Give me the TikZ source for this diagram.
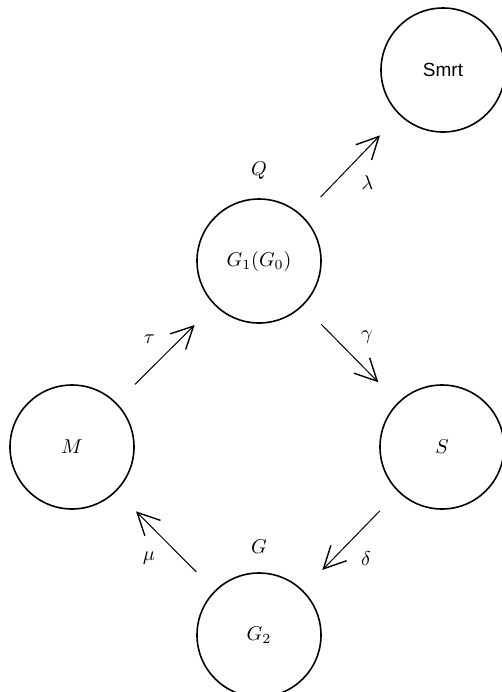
\documentclass[tikz,border=0pt]{standalone}
\usepackage{fontspec}
\newfontfamily\smrtfont{Liberation Sans}
\usetikzlibrary{automata, positioning, arrows.meta}

\begin{document}
\begin{tikzpicture}[x=0.5pt, y=-0.5pt, on grid,
  every state/.style={draw, line width=0.8pt, minimum size=62pt, inner sep=0pt},
  every label/.style={label distance=6pt},
  >={Straight Barb[length=11pt, width=11pt, line width=0.7pt]}]

\useasboundingbox (0,0) rectangle (502,692);

\node[state, label=above:$Q$] (1) at (259,261) {$G_1(G_0)$};
\node[state, above right=95.5pt and 92pt of 1] (smrt) {\fontsize{9.5}{11}\selectfont\smrtfont Smrt};
\node[state, below right=93pt and 91.5pt of 1] (s) {$S$};
\node[state, below left=93pt and 93.5pt of 1] (m) {$M$};
\node[state, below=187pt of 1, label=above:$G$] (2) {$G_2$};

\draw[->, line width=0.5pt, shorten <=13pt, shorten >=14pt, inner sep=5pt]
(1) edge[auto=right] node {$\lambda$} (smrt)
(m) edge[auto=left] node {$\tau$} (1)
(1) edge[auto=left] node {$\gamma$} (s)
(s) edge[auto=left] node {$\delta$} (2)
(2) edge[auto=left] node {$\mu$} (m);

\end{tikzpicture}
\end{document}
